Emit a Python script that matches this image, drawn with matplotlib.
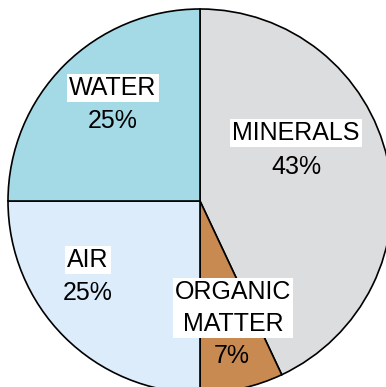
import matplotlib
matplotlib.use("Agg")
import matplotlib.pyplot as plt

categories = ["MINERALS", "ORGANIC\nMATTER", "AIR", "WATER"]
values = [43, 7, 25, 25]
colors = ["#dcdddf", "#c98a52", "#dcecfb", "#a4d9e6"]

# label anchor positions in pixel coords of the 386x387 image (x, y from top)
label_pos = [(296, 133), (233, 308), (88, 260), (113, 88)]
pct_pos = [(296, 167), (232, 356), (88, 293), (113, 121)]

W, H = 386, 387
fig = plt.figure(figsize=(W / 100, H / 100), dpi=100)
ax = fig.add_axes([0, 0, 1, 1])

ax.pie(values, colors=colors, startangle=90, counterclock=False,
       center=(200, H - 201), radius=192,
       wedgeprops=dict(edgecolor="black", linewidth=1.2))
ax.set_xlim(0, W)
ax.set_ylim(0, H)
ax.set_aspect("equal")
ax.axis("off")

font = dict(family="Liberation Sans", fontsize=18, color="black")
for cat, v, (lx, ly), (px, py) in zip(categories, values, label_pos, pct_pos):
    ax.text(lx, H - ly, cat, ha="center", va="center", linespacing=1.45,
            bbox=dict(facecolor="white", edgecolor="none", pad=1.5), **font)
    ax.text(px, H - py, f"{v}%", ha="center", va="center", **font)

fig.savefig("out.png", dpi=100)
